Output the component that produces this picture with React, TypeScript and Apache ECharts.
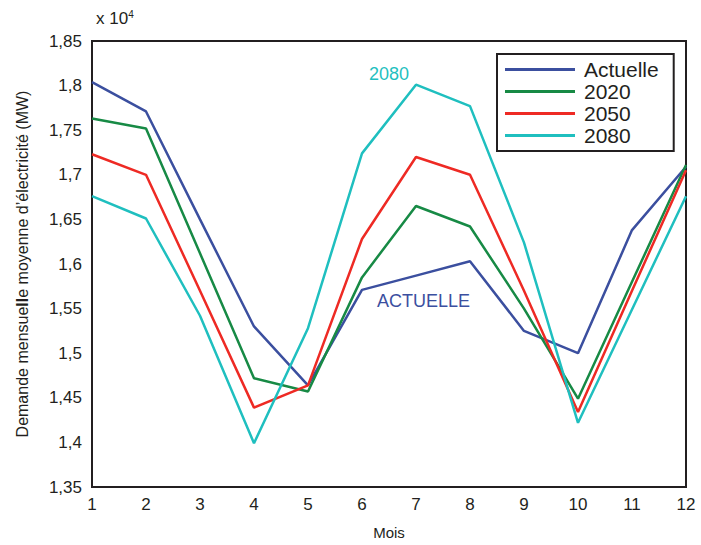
import React, { useEffect, useRef } from "react";
import * as echarts from "echarts";

const months = ["1", "2", "3", "4", "5", "6", "7", "8", "9", "10", "11", "12"];
const actuelle = [18040, 17710, 16500, 15300, 14640, 15710, 15870, 16030, 15250, 15000, 16380, 17090];
const s2020 = [17630, 17520, 16120, 14720, 14570, 15850, 16650, 16420, 15500, 14490, 15800, 17110];
const s2050 = [17230, 17000, 15700, 14390, 14640, 16280, 17200, 17000, 15700, 14340, 15700, 17050];
const s2080 = [16760, 16510, 15420, 13990, 15280, 17240, 18010, 17770, 16240, 14220, 15490, 16760];
const yTicks = { min: 13500, max: 18500, interval: 500 };

const FONT = "'Liberation Sans', Arial, Helvetica, sans-serif";
const INK = "#231f20";
const C_BLUE = "#3b4f9f";
const C_GREEN = "#178a45";
const C_RED = "#ee2a24";
const C_CYAN = "#1fbfbf";

export default function App() {
  const ref = useRef<HTMLDivElement>(null);
  useEffect(() => {
    if (!ref.current) return;
    const chart = echarts.init(ref.current, undefined, { renderer: "svg" });
    const mk = (name: string, data: number[], color: string) => ({
      name,
      type: "line",
      data,
      symbol: "none",
      lineStyle: { color, width: 2.5 },
      itemStyle: { color },
    });
    chart.setOption({
      animation: false,
      backgroundColor: "#ffffff",
      textStyle: { fontFamily: FONT },
      grid: {
        left: 92,
        right: 15,
        top: 41,
        bottom: 52,
        show: true,
        borderColor: INK,
        borderWidth: 2,
        containLabel: false,
      },
      legend: {
        orient: "vertical",
        left: 497,
        top: 54,
        backgroundColor: "#ffffff",
        borderColor: INK,
        borderWidth: 2,
        padding: [5, 15, 5, 8],
        itemWidth: 70,
        itemHeight: 3,
        itemGap: 1,
        icon: "rect",
        textStyle: { fontFamily: FONT, fontSize: 21, color: INK, padding: [0, 0, 0, 4] },
        data: ["Actuelle", "2020", "2050", "2080"],
      },
      xAxis: {
        type: "category",
        data: months,
        boundaryGap: false,
        name: "Mois",
        nameLocation: "middle",
        nameGap: 38,
        nameTextStyle: { fontFamily: FONT, fontSize: 15, color: INK },
        axisLine: { show: true, lineStyle: { color: INK, width: 2 } },
        axisTick: { show: false },
        axisLabel: { fontFamily: FONT, fontSize: 17, color: INK, margin: 9 },
        splitLine: { show: false },
      },
      yAxis: {
        type: "value",
        min: yTicks.min,
        max: yTicks.max,
        interval: yTicks.interval,
        name: "Demande mensue{b|ll}e moyenne d’électricité (MW)",
        nameLocation: "middle",
        nameGap: 62,
        nameTextStyle: {
          fontFamily: FONT,
          fontSize: 16,
          color: INK,
          rich: { b: { fontFamily: FONT, fontSize: 16, fontWeight: "bold", color: INK } },
        },
        axisLine: { show: true, lineStyle: { color: INK, width: 2 } },
        axisTick: { show: false },
        axisLabel: {
          fontFamily: FONT,
          fontSize: 17,
          color: INK,
          margin: 10,
          formatter: (v: number) => String(v / 10000).replace(".", ","),
        },
        splitLine: { show: false },
      },
      graphic: [
        {
          type: "text",
          left: 96,
          top: 9,
          style: {
            text: "x 10{s|4}",
            fontFamily: FONT,
            fontSize: 17,
            fill: INK,
            rich: { s: { fontSize: 10, fontFamily: FONT, fill: INK, verticalAlign: "top", padding: [0, 0, 8, 0] } },
          },
        },
        {
          type: "text",
          left: 369,
          top: 65,
          style: { text: "2080", fontFamily: FONT, fontSize: 18, fill: C_CYAN },
        },
        {
          type: "text",
          left: 377,
          top: 292,
          style: { text: "ACTUELLE", fontFamily: FONT, fontSize: 18, fill: C_BLUE },
        },
      ],
      series: [
        mk("Actuelle", actuelle, C_BLUE),
        mk("2020", s2020, C_GREEN),
        mk("2050", s2050, C_RED),
        mk("2080", s2080, C_CYAN),
      ],
    });
    return () => chart.dispose();
  }, []);
  return <div ref={ref} style={{ width: 701, height: 545, position: "absolute", left: 0, top: 0 }} />;
}
